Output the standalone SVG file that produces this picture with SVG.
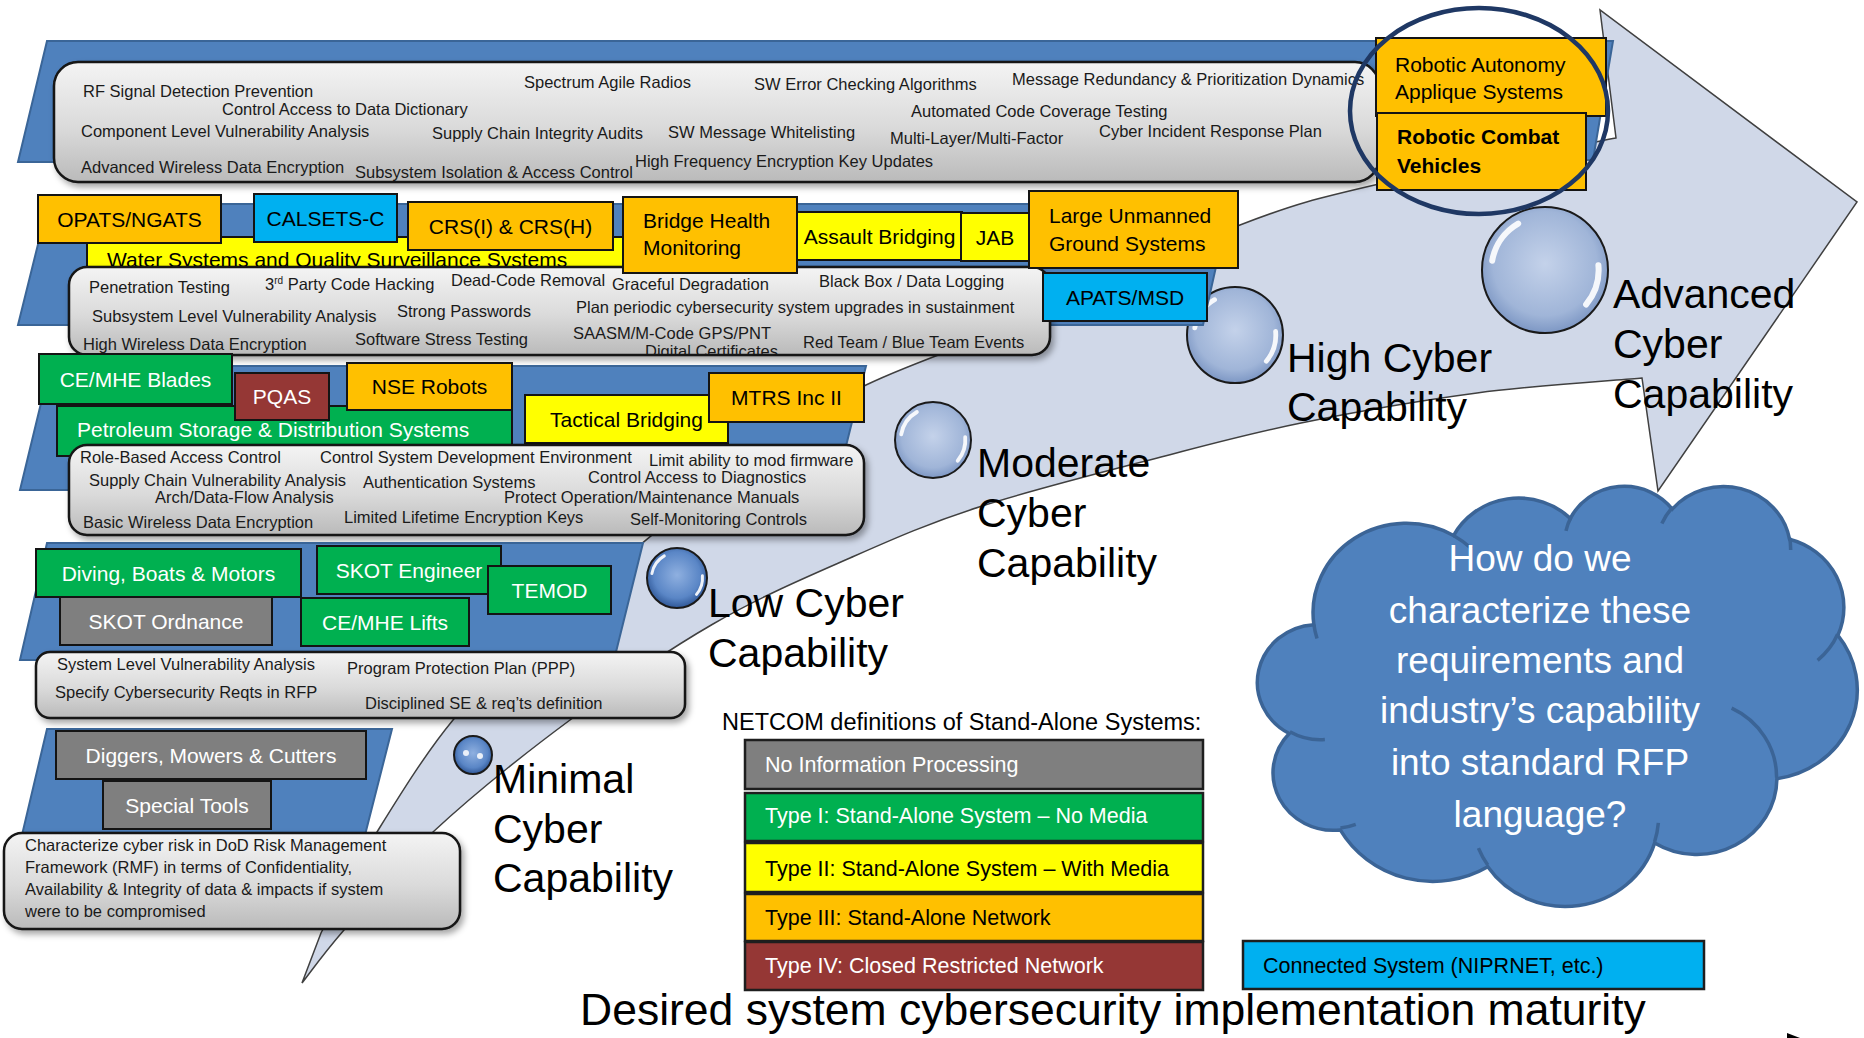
<svg xmlns="http://www.w3.org/2000/svg" width="1864" height="1038" viewBox="0 0 1864 1038">
<defs>
<style>
text{font-family:'Liberation Sans',Arial,sans-serif}
.gb{fill:url(#gGray);stroke:#141414;stroke-width:2.5;filter:url(#sh)}
.band{fill:#4F81BD;stroke:#3A6597;stroke-width:2}
.bx{stroke:#141414;stroke-width:2}
.or{fill:#FFC000}.bl{fill:#00B0F0}.ye{fill:#FFFF00}.gr{fill:#00B050}.gy{fill:#7F7F7F}.rd{fill:#953735}
.t{font-size:16.5px;fill:#1a1a1a}
.bt{font-size:21px;fill:#000}
.bw{font-size:21px;fill:#fff}
.mid{text-anchor:middle}
.lab{font-size:41px;fill:#000}
.lg{stroke:#1e1e1e;stroke-width:2.5}
.lt{font-size:21.5px}
.hl{fill:none;stroke:#fff;stroke-linecap:round;opacity:.9}
.bub{stroke:#1a1a1a;stroke-width:2}
.cl{fill:#fff;font-size:37px;text-anchor:middle}
</style>
<linearGradient id="gGray" x1="0" y1="0" x2="0" y2="1">
<stop offset="0" stop-color="#f4f4f4"/><stop offset="0.55" stop-color="#dadada"/><stop offset="1" stop-color="#bababa"/>
</linearGradient>
<radialGradient id="bubL" cx="50%" cy="45%" r="55%">
<stop offset="0" stop-color="#c4d2ea"/><stop offset="0.75" stop-color="#a0b5d8"/><stop offset="1" stop-color="#7d97c4"/>
</radialGradient>
<radialGradient id="bubD" cx="50%" cy="45%" r="55%">
<stop offset="0" stop-color="#8fb0e0"/><stop offset="0.7" stop-color="#5a86c6"/><stop offset="1" stop-color="#2f5797"/>
</radialGradient>
<filter id="sh" x="-5%" y="-15%" width="115%" height="150%">
<feDropShadow dx="3" dy="4" stdDeviation="3" flood-color="#000" flood-opacity="0.35"/>
</filter>
<clipPath id="clipG2"><rect x="69" y="267" width="981" height="87" rx="18"/></clipPath>
</defs>

<!-- big curved arrow -->
<g id="arrow">
<path d="M302,983 L321,933 C333.5,907.8 355,867.5 377,832 C399,796.5 425,754 453,720 C481,686 513.8,657.2 545,628 C576.2,598.8 605.8,573.3 640,545 C674.2,516.7 712.3,484.7 750,458 C787.7,431.3 816.2,409.3 866,385 C915.8,360.7 986.7,338.7 1049,312 C1111.3,285.3 1185,246.3 1240,225 C1295,203.7 1316.3,198.5 1379,184 C1441.7,169.5 1576.5,145.7 1616,138 L1600,10 L1857,202 L1658,491 L1642,378 C1614.5,380.5 1533.8,385.5 1477,393 C1420.2,400.5 1353.7,412.3 1301,423 C1248.3,433.7 1214.7,443 1161,457 C1107.3,471 1030.8,490.2 979,507 C927.2,523.8 894.3,538.5 850,558 C805.7,577.5 759.7,597 713,624 C666.3,651 616.7,685.3 570,720 C523.3,754.7 470.7,797 433,832 C395.3,867 365.8,904.8 344,930 C322.2,955.2 309,974.2 302,983 Z" fill="#D0D8E8" stroke="#404040" stroke-width="1.5"/>
</g>

<!-- maturity bubbles -->
<g id="bubble-minimal">
<circle cx="473" cy="755" r="19" fill="url(#bubD)" class="bub"/>
<circle cx="466" cy="753" r="3" fill="#fff" opacity=".85"/><circle cx="480" cy="756" r="3" fill="#fff" opacity=".85"/>
</g>
<g id="bubble-low">
<circle cx="677" cy="578" r="30" fill="url(#bubD)" class="bub"/>
<path class="hl" stroke-width="3" d="M651.9,573.6 A25.5,25.5 0 0 1 664.3,555.9 M702.4,575.8 A25.5,25.5 0 0 1 696.5,594.4"/>
</g>
<g id="bubble-moderate">
<circle cx="933" cy="440" r="38" fill="url(#bubL)" class="bub"/>
<path class="hl" stroke-width="3.8" d="M901.2,434.4 A32.3,32.3 0 0 1 916.9,412 M965.2,437.2 A32.3,32.3 0 0 1 957.7,460.8"/>
</g>
<g id="bubble-high">
<circle cx="1235" cy="335" r="48" fill="url(#bubL)" class="bub"/>
<path class="hl" stroke-width="4.8" d="M1194.8,327.9 A40.8,40.8 0 0 1 1214.6,299.7 M1275.6,331.4 A40.8,40.8 0 0 1 1266.3,361.2"/>
</g>
<g id="bubble-advanced">
<circle cx="1545" cy="270" r="63" fill="url(#bubL)" class="bub"/>
<path class="hl" stroke-width="6" d="M1492.2,260.7 A53.6,53.6 0 0 1 1518.2,223.6 M1598.4,265.3 A53.6,53.6 0 0 1 1586.1,304.5"/>
</g>

<!-- level labels -->
<g id="label-minimal" class="lab"><text x="493" y="793" class="lab">Minimal</text><text x="493" y="843" class="lab">Cyber</text><text x="493" y="892" class="lab">Capability</text></g>
<g id="label-low"><text x="708" y="617" class="lab">Low Cyber</text><text x="708" y="667" class="lab">Capability</text></g>
<g id="label-moderate"><text x="977" y="477" class="lab">Moderate</text><text x="977" y="527" class="lab">Cyber</text><text x="977" y="577" class="lab">Capability</text></g>
<g id="label-high"><text x="1287" y="372" class="lab">High Cyber</text><text x="1287" y="421" class="lab">Capability</text></g>
<g id="label-advanced"><text x="1613" y="308" class="lab">Advanced</text><text x="1613" y="358" class="lab">Cyber</text><text x="1613" y="408" class="lab">Capability</text></g>

<!-- Band 1 : advanced -->
<g id="band1">
<polygon class="band" points="47,41 1613,41 1593,160 18,162"/>
<rect class="gb" x="54" y="62" width="1325" height="120" rx="24"/>
<g class="t">
<text x="83" y="97">RF Signal Detection Prevention</text>
<text x="222" y="115">Control Access to Data Dictionary</text>
<text x="81" y="137">Component Level Vulnerability Analysis</text>
<text x="81" y="173">Advanced Wireless Data Encryption</text>
<text x="355" y="178">Subsystem Isolation &amp; Access Control</text>
<text x="635" y="167">High Frequency Encryption Key Updates</text>
<text x="524" y="88">Spectrum Agile Radios</text>
<text x="432" y="139">Supply Chain Integrity Audits</text>
<text x="668" y="138">SW Message Whitelisting</text>
<text x="754" y="90">SW Error Checking Algorithms</text>
<text x="1012" y="85">Message Redundancy &amp; Prioritization Dynamics</text>
<text x="911" y="117">Automated Code Coverage Testing</text>
<text x="890" y="144">Multi-Layer/Multi-Factor</text>
<text x="1099" y="137">Cyber Incident Response Plan</text>
</g>
</g>
<g id="robotic-autonomy">
<rect class="bx or" x="1376" y="38" width="230" height="78"/>
<text class="bt" x="1395" y="72">Robotic Autonomy</text>
<text class="bt" x="1395" y="99">Applique Systems</text>
</g>
<g id="robotic-combat">
<rect class="bx or" x="1377" y="113" width="209" height="77"/>
<text class="bt" x="1397" y="144" font-weight="bold">Robotic Combat</text>
<text class="bt" x="1397" y="173" font-weight="bold">Vehicles</text>
</g>
<ellipse id="highlight-ring" cx="1479" cy="111" rx="129" ry="103" fill="none" stroke="#1F3864" stroke-width="4.5"/>

<!-- Band 2 : high -->
<g id="band2">
<polygon class="band" points="48,204 1230,204 1203,325 18,325"/>
</g>
<g id="water"><rect class="bx ye" x="87" y="237" width="537" height="40"/><text class="bt" x="107" y="267" font-size="21.5">Water Systems and Quality Surveillance Systems</text></g>
<g id="opats"><rect class="bx or" x="38" y="195" width="183" height="48"/><text class="bt mid" x="129.5" y="226.5">OPATS/NGATS</text></g>
<g id="calsets"><rect class="bx bl" x="254" y="194" width="143" height="48"/><text class="bt mid" x="325.5" y="225.5">CALSETS-C</text></g>
<g id="crs"><rect class="bx or" x="408" y="202" width="205" height="48"/><text class="bt mid" x="510.5" y="233.5">CRS(I) &amp; CRS(H)</text></g>
<g id="assault"><rect class="bx ye" x="797" y="212" width="165" height="48"/><text class="bt mid" x="879.5" y="243.5">Assault Bridging</text></g>
<g id="jab"><rect class="bx ye" x="961" y="213" width="68" height="48"/><text class="bt mid" x="995" y="244.5">JAB</text></g>
<g id="box2">
<rect class="gb" x="69" y="267" width="981" height="88" rx="18"/>
<g class="t">
<text x="89" y="293">Penetration Testing</text>
<text x="265" y="290">3<tspan font-size="10" dy="-6">rd</tspan><tspan dy="6"> Party Code Hacking</tspan></text>
<text x="451" y="286">Dead-Code Removal</text>
<text x="612" y="290">Graceful Degradation</text>
<text x="819" y="287">Black Box / Data Logging</text>
<text x="92" y="322">Subsystem Level Vulnerability Analysis</text>
<text x="397" y="317">Strong Passwords</text>
<text x="576" y="313">Plan periodic cybersecurity system upgrades in sustainment</text>
<text x="83" y="350">High Wireless Data Encryption</text>
<text x="355" y="345">Software Stress Testing</text>
<text x="573" y="339">SAASM/M-Code GPS/PNT</text>
<text x="645" y="357" clip-path="url(#clipG2)">Digital Certificates</text>
<text x="803" y="348">Red Team / Blue Team Events</text>
</g>
</g>
<g id="bridge"><rect class="bx or" x="623" y="197" width="174" height="76"/><text class="bt" x="643" y="228">Bridge Health</text><text class="bt" x="643" y="255">Monitoring</text></g>
<g id="large-unmanned"><rect class="bx or" x="1029" y="191" width="209" height="77"/><text class="bt" x="1049" y="223">Large Unmanned</text><text class="bt" x="1049" y="251">Ground Systems</text></g>
<g id="apats"><rect class="bx bl" x="1043" y="273" width="164" height="48"/><text class="bt mid" x="1125" y="304.5">APATS/MSD</text></g>

<!-- Band 3 : moderate -->
<g id="band3"><polygon class="band" points="50,366 866,366 835,490 20,490"/></g>
<g id="petroleum"><rect class="bx gr" x="57" y="406" width="455" height="50"/><text class="bw" x="77" y="437" font-size="21.5">Petroleum Storage &amp; Distribution Systems</text></g>
<g id="ce-mhe-blades"><rect class="bx gr" x="39" y="354" width="193" height="50"/><text class="bw mid" x="135.5" y="386.5">CE/MHE Blades</text></g>
<g id="pqas"><rect class="bx rd" x="235" y="373" width="94" height="47"/><text class="bw mid" x="282" y="404">PQAS</text></g>
<g id="nse"><rect class="bx or" x="347" y="363" width="165" height="47"/><text class="bt mid" x="429.5" y="394">NSE Robots</text></g>
<g id="tactical"><rect class="bx ye" x="525" y="395" width="203" height="48"/><text class="bt mid" x="626.5" y="426.5">Tactical Bridging</text></g>
<g id="mtrs"><rect class="bx or" x="709" y="373" width="155" height="49"/><text class="bt mid" x="786.5" y="405">MTRS Inc II</text></g>
<g id="box3">
<rect class="gb" x="69" y="445" width="795" height="90" rx="18"/>
<g class="t">
<text x="80" y="463">Role-Based Access Control</text>
<text x="320" y="463">Control System Development Environment</text>
<text x="649" y="466">Limit ability to mod firmware</text>
<text x="89" y="486">Supply Chain Vulnerability Analysis</text>
<text x="363" y="488">Authentication Systems</text>
<text x="588" y="483">Control Access to Diagnostics</text>
<text x="155" y="503">Arch/Data-Flow Analysis</text>
<text x="504" y="503">Protect Operation/Maintenance Manuals</text>
<text x="83" y="528">Basic Wireless Data Encryption</text>
<text x="344" y="523">Limited Lifetime Encryption Keys</text>
<text x="630" y="525">Self-Monitoring Controls</text>
</g>
</g>

<!-- Band 4 : low -->
<g id="band4"><polygon class="band" points="47,543 643,543 614,660 20,660"/></g>
<g id="diving"><rect class="bx gr" x="36" y="549" width="265" height="48"/><text class="bw mid" x="168.5" y="580.5">Diving, Boats &amp; Motors</text></g>
<g id="skot-engineer"><rect class="bx gr" x="317" y="546" width="184" height="48"/><text class="bw mid" x="409" y="577.5">SKOT Engineer</text></g>
<g id="temod"><rect class="bx gr" x="488" y="566" width="123" height="48"/><text class="bw mid" x="549.5" y="597.5">TEMOD</text></g>
<g id="skot-ordnance"><rect class="bx gy" x="60" y="597" width="212" height="48"/><text class="bw mid" x="166" y="628.5">SKOT Ordnance</text></g>
<g id="ce-mhe-lifts"><rect class="bx gr" x="301" y="598" width="168" height="48"/><text class="bw mid" x="385" y="629.5">CE/MHE Lifts</text></g>
<g id="box4">
<rect class="gb" x="36" y="652" width="649" height="66" rx="14"/>
<g class="t">
<text x="57" y="670">System Level Vulnerability Analysis</text>
<text x="347" y="674">Program Protection Plan (PPP)</text>
<text x="55" y="698">Specify Cybersecurity Reqts in RFP</text>
<text x="365" y="709">Disciplined SE &amp; req’ts definition</text>
</g>
</g>

<!-- Band 5 : minimal -->
<g id="band5"><polygon class="band" points="47,729 392,729 365,835 22,835"/></g>
<g id="diggers"><rect class="bx gy" x="56" y="731" width="310" height="48"/><text class="bw mid" x="211" y="762.5">Diggers, Mowers &amp; Cutters</text></g>
<g id="special-tools"><rect class="bx gy" x="103" y="781" width="168" height="48"/><text class="bw mid" x="187" y="812.5">Special Tools</text></g>
<g id="box5">
<rect class="gb" x="4" y="833" width="456" height="96" rx="18"/>
<g class="t">
<text x="25" y="851">Characterize cyber risk in DoD Risk Management</text>
<text x="25" y="873">Framework (RMF) in terms of Confidentiality,</text>
<text x="25" y="895">Availability &amp; Integrity of data &amp; impacts if system</text>
<text x="25" y="917">were to be compromised</text>
</g>
</g>

<!-- cloud -->
<g id="cloud">
<g transform="translate(1260,485) scale(0.013819,0.009722)">
<path d="M3900,14370 A6753,9190 0 0 1 14005,5202 A5333,7267 0 0 1 22457,3431 A4365,5945 0 0 1 29834,2479 A4857,6595 0 0 1 38319,5574 A5333,7273 0 0 1 41820,15458 A6775,9220 0 0 1 37406,30202 A5785,7867 0 0 1 28559,36813 A6752,9215 0 0 1 16485,39268 A7720,10543 0 0 1 5809,35478 A4360,5918 0 0 1 2117,25558 A4345,5945 0 0 1 3900,14370 Z" fill="#4F81BD" stroke="#3B6496" stroke-width="3.5" vector-effect="non-scaling-stroke"/>
<path d="M4693,26177 A4345,5945 0 0 1 2159,25379 M6928,34899 A4360,5918 0 0 1 5819,35281 M16478,39090 A6752,9215 0 0 1 15808,37346 M28827,34751 A6752,9215 0 0 1 28561,36660 M34129,22954 A5785,7867 0 0 1 37381,30090 M41798,15354 A5333,7273 0 0 1 40350,18031 M38324,5426 A4857,6595 0 0 1 38400,6690 M29078,3952 A4857,6595 0 0 1 29820,2340 M22141,4720 A4365,5945 0 0 1 22500,3331 M14000,5192 A6753,9190 0 0 1 15300,6541 M4127,15789 A6753,9190 0 0 1 3900,14372" fill="none" stroke="#3B6496" stroke-width="3.5" vector-effect="non-scaling-stroke"/>
</g>
<text class="cl" x="1540" y="571">How do we</text>
<text class="cl" x="1540" y="623">characterize these</text>
<text class="cl" x="1540" y="673">requirements and</text>
<text class="cl" x="1540" y="723">industry’s capability</text>
<text class="cl" x="1540" y="775">into standard RFP</text>
<text class="cl" x="1540" y="827">language?</text>
</g>

<!-- legend -->
<g id="legend">
<text x="722" y="730" font-size="23.5" fill="#000">NETCOM definitions of Stand-Alone Systems:</text>
<g id="leg-none"><rect class="lg gy" x="745" y="740" width="458" height="49"/><text class="lt" x="765" y="772" fill="#fff">No Information Processing</text></g>
<g id="leg-type1"><rect class="lg gr" x="745" y="793" width="458" height="48"/><text class="lt" x="765" y="823" fill="#fff">Type I: Stand-Alone System – No Media</text></g>
<g id="leg-type2"><rect class="lg ye" x="745" y="843" width="458" height="49"/><text class="lt" x="765" y="876" fill="#000">Type II: Stand-Alone System – With Media</text></g>
<g id="leg-type3"><rect class="lg or" x="745" y="894" width="458" height="47"/><text class="lt" x="765" y="925" fill="#000">Type III: Stand-Alone Network</text></g>
<g id="leg-type4"><rect class="lg rd" x="745" y="942" width="458" height="48"/><text class="lt" x="765" y="973" fill="#fff">Type IV: Closed Restricted Network</text></g>
<g id="leg-connected"><rect class="lg bl" x="1243" y="941" width="461" height="48"/><text class="lt" x="1263" y="973" fill="#000">Connected System (NIPRNET, etc.)</text></g>
</g>

<text id="axis-title" x="580" y="1025" font-size="44.5" fill="#000">Desired system cybersecurity implementation maturity</text>
<polygon points="1787,1033 1800,1038 1787,1038" fill="#000"/>
</svg>
